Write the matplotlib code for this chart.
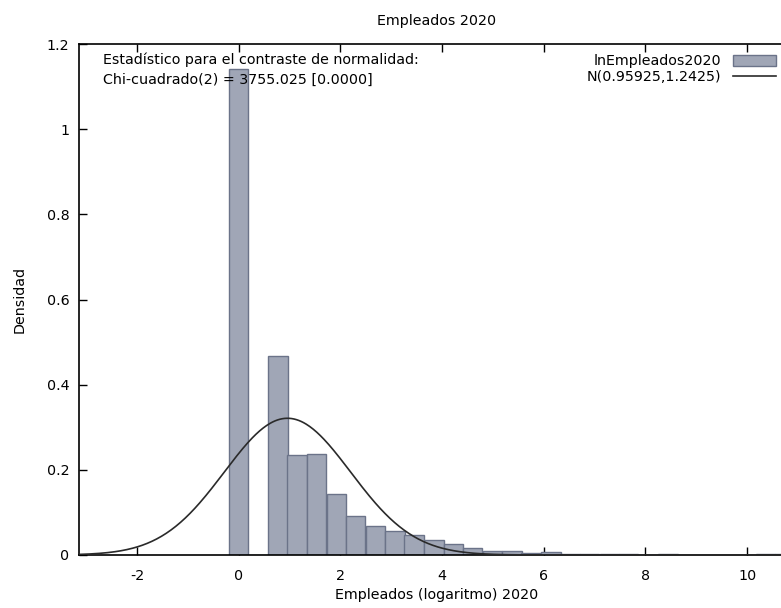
import numpy as np
import matplotlib
matplotlib.use("Agg")
import matplotlib.pyplot as plt
from matplotlib.ticker import FuncFormatter

plt.rcParams["axes.unicode_minus"] = False

# ---- data ----
bin_centers = [0.00, 0.38, 0.77, 1.15, 1.53, 1.92, 2.30, 2.69, 3.07, 3.45,
               3.84, 4.22, 4.60, 4.99, 5.37, 5.75, 6.14, 6.52, 6.90, 7.29,
               7.67, 8.06, 8.44, 8.82, 9.21, 9.59, 9.97, 10.36, 10.74]
densities = [1.142, 0.0, 0.467, 0.235, 0.238, 0.1425, 0.092, 0.067, 0.056, 0.046,
             0.0345, 0.026, 0.0164, 0.010, 0.010, 0.0045, 0.0078, 0.002, 0.0015, 0.0015,
             0.0015, 0.0, 0.0025, 0.0, 0.0, 0.0, 0.0, 0.002, 0.002]
bin_width = 0.3836
norm_mean = 0.95925
norm_sd = 1.2425
chi2_stat = 3755.025
chi2_p = 0.0
x_ticks = [-2, 0, 2, 4, 6, 8, 10]
y_ticks = [0, 0.2, 0.4, 0.6, 0.8, 1.0, 1.2]

W, H = 781, 608
fig = plt.figure(figsize=(W / 100, H / 100), dpi=100)
ax = fig.add_axes([79 / W, (H - 555) / H, (795 - 79) / W, (555 - 44) / H])

xmin, xmax = -3.14, 10.94
bars = ax.bar(bin_centers, densities, width=bin_width, color="#a0a6b6",
              edgecolor="#6b7389", linewidth=1.0, label="lnEmpleados2020", zorder=2)

xs = np.linspace(xmin, xmax, 600)
pdf = np.exp(-0.5 * ((xs - norm_mean) / norm_sd) ** 2) / (norm_sd * np.sqrt(2 * np.pi))
line, = ax.plot(xs, pdf, color="#2a2a2a", linewidth=1.2,
                label="N(%.5f,%.4f)" % (norm_mean, norm_sd), zorder=3)

ax.set_xlim(xmin, xmax)
ax.set_ylim(0, 1.2)
ax.set_xticks(x_ticks)
ax.set_yticks(y_ticks)
ax.yaxis.set_major_formatter(FuncFormatter(lambda v, p: "%g" % v))
ax.tick_params(direction="in", length=6, width=1, top=True, right=True,
               labelsize=10.3, colors="black")
ax.tick_params(axis="x", pad=10)
ax.tick_params(axis="y", pad=7)
for s in ax.spines.values():
    s.set_linewidth(1.2)

ax.set_title("Empleados 2020", fontsize=10.3, pad=14)
ax.set_xlabel("Empleados (logaritmo) 2020", fontsize=10.3, labelpad=4)
ax.set_ylabel("Densidad", fontsize=10.3, labelpad=14)

fig.text(103 / W, 1 - 60 / H, "Estadístico para el contraste de normalidad:",
         fontsize=10.3, va="center", ha="left")
fig.text(103 / W, 1 - 80 / H, "Chi-cuadrado(2) = %.3f [%.4f]" % (chi2_stat, chi2_p),
         fontsize=10.3, va="center", ha="left")

leg = ax.legend(handles=[bars, line], loc="upper right", bbox_to_anchor=(776 / W, 1 - 54 / H),
                bbox_transform=fig.transFigure, frameon=False, markerfirst=False,
                fontsize=10.3, handlelength=3.0, handleheight=0.8, labelspacing=0.15,
                borderpad=0, borderaxespad=0, handletextpad=0.8)

fig.savefig("out.png", dpi=100)
